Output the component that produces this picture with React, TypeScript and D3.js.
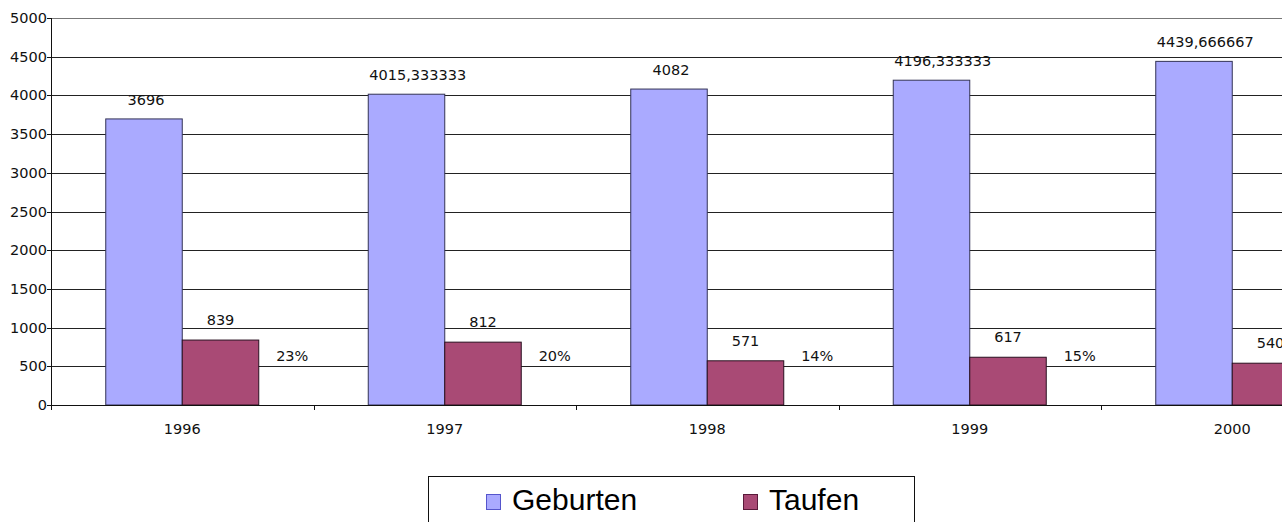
import React from "react";
import * as d3 from "d3";

const years = ["1996", "1997", "1998", "1999", "2000"];
const geburten = [3696, 4015.333333, 4082, 4196.333333, 4439.666667];
const geburtenLabels = ["3696", "4015,333333", "4082", "4196,333333", "4439,666667"];
const taufen = [839, 812, 571, 617, 540];
const taufenLabels = ["839", "812", "571", "617", "540"];
const quoteLabels = ["23%", "20%", "14%", "15%", ""];
const yTicks = [0, 500, 1000, 1500, 2000, 2500, 3000, 3500, 4000, 4500, 5000];
const seriesNames = ["Geburten", "Taufen"];
const colors = ["#aaaaff", "#a94a75"];

export default function App() {
  const W = 1282;
  const H = 522;
  const left = 51;
  const catW = 262.5;
  const plotRight = left + catW * years.length;
  const x = d3.scaleBand().domain(years).range([left, plotRight]).paddingInner(0).paddingOuter(0);
  const barW = 76.5;
  const y = d3.scaleLinear().domain([0, 5000]).range([405, 18]);
  const font = "'DejaVu Sans', Verdana, sans-serif";
  const fs = 14.5;

  return (
    <svg width={W} height={H} style={{ position: "absolute", left: 0, top: 0, background: "#fff" }}>
      {yTicks.filter((t) => t > 0).map((t) => (
        <line key={"g" + t} x1={left} x2={plotRight} y1={Math.round(y(t)) + 0.5} y2={Math.round(y(t)) + 0.5}
          stroke={t === 5000 ? "#777" : "#222"} strokeWidth={1} />
      ))}
      {years.map((yr, i) => {
        const c = (x(yr) as number) + x.bandwidth() / 2;
        const gx = c - barW;
        const tx = c;
        return (
          <g key={yr}>
            <rect x={gx} y={y(geburten[i])} width={barW} height={y(0) - y(geburten[i])}
              fill={colors[0]} stroke="#333355" strokeWidth={1} />
            <rect x={tx} y={y(taufen[i])} width={barW} height={y(0) - y(taufen[i])}
              fill={colors[1]} stroke="#2a1020" strokeWidth={1} />
            {geburtenLabels[i].length > 6 ? (
              <text x={gx + 1} y={y(geburten[i]) - 14} fontFamily={font} fontSize={fs} fill="#111">
                {geburtenLabels[i]}
              </text>
            ) : (
              <text x={gx + barW / 2 + 2} y={y(geburten[i]) - 14} textAnchor="middle" fontFamily={font} fontSize={fs} fill="#111">
                {geburtenLabels[i]}
              </text>
            )}
            <text x={tx + barW / 2} y={y(taufen[i]) - 15} textAnchor="middle" fontFamily={font} fontSize={fs} fill="#111">
              {taufenLabels[i]}
            </text>
            {quoteLabels[i] && (
              <text x={c + 110} y={y(0) - 44} textAnchor="middle" fontFamily={font} fontSize={fs} fill="#111">
                {quoteLabels[i]}
              </text>
            )}
            <text x={c} y={434} textAnchor="middle" fontFamily={font} fontSize={fs} fill="#111">
              {yr}
            </text>
          </g>
        );
      })}
      <line x1={left + 0.5} x2={left + 0.5} y1={y(5000)} y2={y(0)} stroke="#111" />
      <line x1={left} x2={plotRight} y1={y(0) + 0.5} y2={y(0) + 0.5} stroke="#111" />
      {yTicks.map((t) => (
        <g key={"t" + t}>
          <line x1={left - 4} x2={left} y1={Math.round(y(t)) + 0.5} y2={Math.round(y(t)) + 0.5} stroke="#111" />
          <text x={left - 4} y={y(t) + 5} textAnchor="end" fontFamily={font} fontSize={fs} fill="#111">
            {t}
          </text>
        </g>
      ))}
      {d3.range(years.length + 1).map((k) => (
        <line key={"xt" + k} x1={Math.round(left + k * catW) + 0.5} x2={Math.round(left + k * catW) + 0.5}
          y1={y(0)} y2={y(0) + 5} stroke="#111" />
      ))}
      <rect x={428.5} y={476.5} width={486} height={60} fill="#fff" stroke="#111" />
      {seriesNames.map((n, i) => {
        const lx = i === 0 ? 486 : 743;
        return (
          <g key={n}>
            <rect x={lx + 0.5} y={494.5} width={14} height={15} fill={colors[i]} stroke={i === 0 ? "#5555cc" : "#5a1a3a"} />
            <text x={lx + 26} y={510} fontFamily="'Liberation Sans', Arial, sans-serif" fontSize={30} fill="#000">
              {n}
            </text>
          </g>
        );
      })}
    </svg>
  );
}
